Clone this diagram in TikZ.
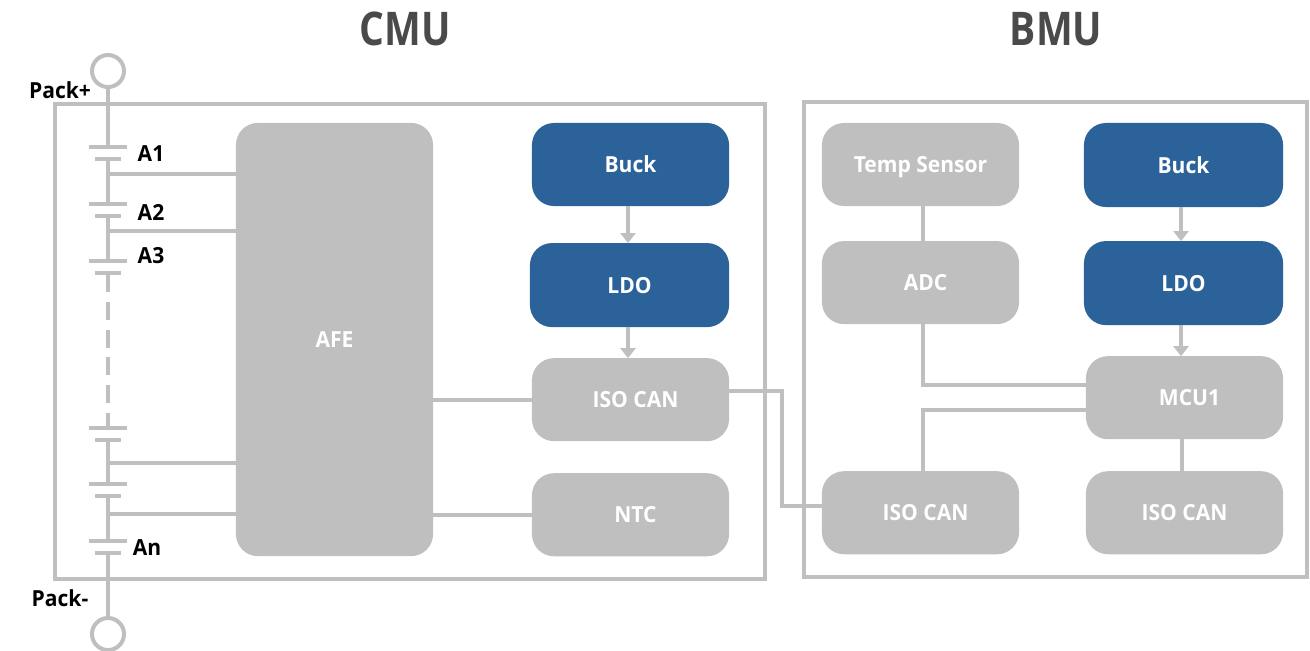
\documentclass[tikz,border=0pt]{standalone}
\usepackage{fontspec}
\setmainfont[FakeStretch=0.95]{Open Sans}
\newfontfamily\titlefont[FakeStretch=0.84]{Open Sans}
\usetikzlibrary{positioning, arrows.meta}
\definecolor{blockgray}{HTML}{BFBFBF}
\definecolor{blockblue}{HTML}{2B6299}
\definecolor{titlegray}{HTML}{4A4A4A}
\newcommand{\nudge}{\hspace*{0.1cm}}
\tikzset{
wire/.style={draw=blockgray, line width=0.04cm}, % every line of the picture
feed/.style={wire, -{Triangle[width=0.15cm, length=0.1cm]}},
block/.style={rounded corners=0.22cm, minimum width=1.97cm, minimum height=0.83cm, inner sep=0pt, outer sep=0pt, text=white, text height=0.16cm, text depth=0pt, font=\fontsize{6.3}{7.5}\selectfont\bfseries},
grayblock/.style={block, fill=blockgray},
blueblock/.style={block, fill=blockblue},
frame/.style={wire, inner sep=0pt, outer sep=0pt},
terminal/.style={circle, wire, minimum size=0.32cm, inner sep=0pt, outer sep=0pt},
title/.style={text=titlegray, font=\fontsize{13.2}{15}\titlefont\bfseries},
celllabel/.style={text=black, inner sep=0pt, font=\fontsize{6.3}{7.5}\selectfont\bfseries},
}

\begin{document}
\begin{tikzpicture}[x=0.01cm, y=-0.01cm]
    \useasboundingbox (0,0) rectangle (1310,650);

    \node[title] (cmu) at (405,29) {CMU};
    \node[title] (bmu) at (1056,29) {BMU};

    % frames
    \node[frame, minimum width=7.1cm, minimum height=4.75cm] (cmuframe) at (410,341.5) {};
    \node[frame, minimum width=5.03cm, minimum height=4.75cm] (bmuframe) at (1055.5,339.5) {};

    % CMU blocks
    \node[grayblock, minimum height=4.33cm] (afe) at (334.5,339.5) {AFE};
    \node[blueblock] (buckc) at (630.5,164.5) {Buck};
    \node[blueblock, minimum width=1.99cm, minimum height=0.84cm, below of=buckc, node distance=1.205cm, xshift=-0.01cm] (ldoc) {LDO};
    \node[grayblock, below of=buckc, node distance=2.35cm] (isoc) {\nudge ISO CAN};
    \node[grayblock, below of=isoc, node distance=1.15cm] (ntc) {\nudge NTC};

    % BMU blocks
    \node[grayblock] (temp) at (920.5,164.5) {Temp Sensor};
    \node[grayblock, below of=temp, node distance=1.18cm] (adc) {\nudge ADC};
    \node[grayblock, below of=adc, node distance=2.30cm] (isob) {\nudge ISO CAN};
    \node[blueblock, minimum width=1.99cm, minimum height=0.84cm] (buckb) at (1183.5,165) {Buck};
    \node[blueblock, minimum width=1.99cm, minimum height=0.84cm, below of=buckb, node distance=1.18cm] (ldob) {LDO};
    \node[grayblock, below of=ldob, node distance=1.145cm, xshift=0.01cm] (mcu) {\nudge MCU1};
    \node[grayblock, below of=mcu, node distance=1.15cm] (isom) {ISO CAN};

    % terminals and cell labels
    \node[terminal] (packp) at (108,71) {};
    \node[terminal] (packn) at (108,634) {};
    \node[celllabel] (lpackp) at (60,90) {Pack+};
    \node[celllabel] (lpackn) at (60,598) {Pack-};
    \node[celllabel] (la1) at (151,154) {A1};
    \node[celllabel] (la2) at (151,212) {A2};
    \node[celllabel] (la3) at (151,256) {A3};
    \node[celllabel] (lan) at (147,548) {An};

    % cell plates
    \foreach \y in {147,204,261,428,484,541} {
        \draw[wire] (89,\y) -- (127,\y);
        \draw[wire] (95,\y+12) -- (121,\y+12);
    }

    % pack string
    \coordinate (tapa) at (108,174);
    \coordinate (tapb) at (108,231);
    \coordinate (tapc) at (108,463);
    \coordinate (tapd) at (108,514);
    \coordinate (gapa) at (108,292);
    \coordinate (gapb) at (108,413);
    \draw[wire] (packp) -- (108,147);
    \draw[wire] (108,159) -- (108,204);
    \draw[wire] (108,216) -- (108,261);
    \draw[wire] (108,273) -- (gapa);
    \draw[wire, dash pattern=on 0.18cm off 0.095cm] (108,302) -- (108,404);
    \draw[wire] (gapb) -- (108,428);
    \draw[wire] (108,440) -- (108,484);
    \draw[wire] (108,496) -- (108,541);
    \draw[wire] (108,553) -- (packn);

    \draw[wire] (tapa) -- (afe.west |- tapa);
    \draw[wire] (tapb) -- (afe.west |- tapb);
    \draw[wire] (tapc) -- (afe.west |- tapc);
    \draw[wire] (tapd) -- (afe.west |- tapd);

    % CMU links
    \draw[wire] (afe.east |- isoc) -- (isoc);
    \draw[wire] (afe.east |- ntc) -- (ntc);
    \draw[feed] (buckc.south -| 628,0) -- (ldoc.north -| 628,0);
    \draw[feed] (ldoc.south -| 628,0) -- (isoc.north -| 628,0);

    % BMU links
    \coordinate (canout) at (isoc.east |- 0,391);
    \coordinate (canin) at (isob.west |- 0,506);
    \coordinate (adcout) at (adc.south -| 923,0);
    \coordinate (adcin) at (mcu.west |- 0,385);
    \coordinate (isoout) at (isob.north -| 923,0);
    \coordinate (isoin) at (mcu.west |- 0,410);
    \draw[wire] (canout) -| (782,448) |- (canin);
    \draw[wire] (temp.south -| 923,0) -- (adc.north -| 923,0);
    \draw[wire] (adcout) |- (adcin);
    \draw[wire] (isoout) |- (isoin);
    \draw[wire] (mcu.south -| 1182,0) -- (isom.north -| 1182,0);
    \draw[feed] (buckb.south -| 1181,0) -- (ldob.north -| 1181,0);
    \draw[feed] (ldob.south -| 1181,0) -- (mcu.north -| 1181,0);
\end{tikzpicture}
\end{document}
